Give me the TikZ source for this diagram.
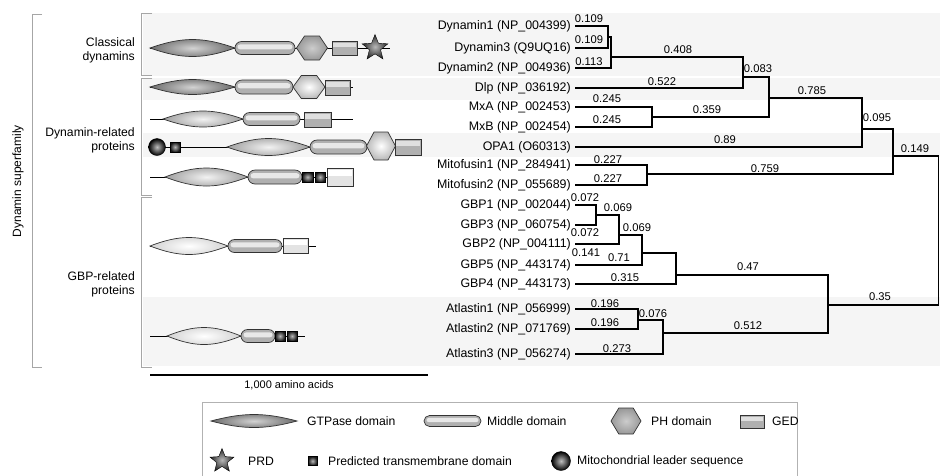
\documentclass[tikz,border=0pt]{standalone}
\usepackage{fontspec}
\setmainfont{Liberation Sans}
\usetikzlibrary{shapes.geometric}
\tikzset{
  every node/.style={inner sep=1pt},
  tree/.style={line width=1.6pt, line join=miter},
  leaf/.style={anchor=east, font=\fontsize{12.4}{14}\selectfont},
  blen/.style={font=\fontsize{11.2}{13}\selectfont},
  grp/.style={anchor=east, align=right, font=\fontsize{12.2}{14}\selectfont},
  legtxt/.style={anchor=west, font=\fontsize{12.2}{14}\selectfont},
  brk/.style={draw=gray!70, line width=1pt},
  band/.style={fill=gray!8, draw=none},
  backb/.style={line width=1pt},
  outl/.style={draw=black!80, line width=0.7pt},
  gtpdark/.style={inner color=gray!35, outer color=gray!85!black},
  gtpmid/.style={inner color=gray!10, outer color=gray!75},
  gtplight/.style={inner color=white, outer color=gray!35},
  hexdark/.style={inner color=gray!40, outer color=gray!80},
  hexlight/.style={inner color=white, outer color=gray!55},
  tmsh/.style={inner color=gray!55, outer color=black!90},
}
\newcommand\gtpase[5]{%
  \pgfmathsetmacro\gtw{(#2-#1)*0.38}\pgfmathsetmacro\gtc{#4/0.75}%
  \shadedraw[#5,outl] (#1,#3) .. controls +(\gtw,-\gtc) and +(-\gtw,-\gtc) .. (#2,#3)
     .. controls +(-\gtw,\gtc) and +(\gtw,\gtc) .. (#1,#3) -- cycle;}
\newcommand\middom[4]{%
  \pgfmathsetmacro\mdr{#4*0.4}%
  \filldraw[fill=gray!62,outl,rounded corners=#4pt] (#1,#3-#4) rectangle (#2,#3+#4);
  \fill[gray!18,rounded corners=\mdr pt] (#1+2.5,#3-0.55*#4) rectangle (#2-2.5,#3+0.2*#4);}
\newcommand\gedbox[6]{%
  \filldraw[fill=#5,outl] (#1,#3) rectangle (#2,#4);
  \fill[#6] (#1+1.2,#3+1.5) rectangle (#2-1.2,#3*0.55+#4*0.45);}
\newcommand\hexa[5]{%
  \pgfmathsetmacro\hxa{#3/2}\pgfmathsetmacro\hxb{#3*0.24}\pgfmathsetmacro\hxh{#4/2}%
  \shadedraw[#5,outl] (#1-\hxa,#2) -- (#1-\hxb,#2-\hxh) -- (#1+\hxb,#2-\hxh) -- (#1+\hxa,#2)
     -- (#1+\hxb,#2+\hxh) -- (#1-\hxb,#2+\hxh) -- cycle;}
\newcommand\tmdom[4]{%
  \shadedraw[tmsh,draw=black,line width=0.7pt] (#1,#3-#4) rectangle (#2,#3+#4);}
\begin{document}
\begin{tikzpicture}[x=1pt,y=-1pt]
\useasboundingbox (0,0) rectangle (940,475);
\fill[white] (0,0) rectangle (940,475);
% background bands
\fill[band] (143,13) rectangle (940,76);
\fill[band] (143,78) rectangle (940,100);
\fill[band] (143,133) rectangle (940,157);
\fill[band] (143,297) rectangle (940,366);
% brackets
\draw[brk] (42,14) -- (32,14) -- (32,367) -- (42,367);
\draw[brk] (152,13) -- (141,13) -- (141,75) -- (152,75);
\draw[brk] (152,78) -- (141,78) -- (141,195) -- (152,195);
\draw[brk] (152,197) -- (141,197) -- (141,367) -- (152,367);
\node[rotate=90, font=\fontsize{12}{14}\selectfont] (sup) at (18,181) {Dynamin superfamily};
\node[grp] (cls) at (136,50) {Classical\\dynamins};
\node[grp] (drp) at (136,140) {Dynamin-related\\proteins};
\node[grp] (gbp) at (136,284) {GBP-related\\proteins};
% row 1 classical dynamin
\draw[backb] (150,48) -- (390,48);
\gtpase{150}{235}{48}{8.5}{gtpdark}
\middom{235}{295}{48}{6.5}
\hexa{312}{48}{31}{24}{hexdark}
\gedbox{332}{357}{41}{55}{gray!62}{gray!25}
\node[star, star points=5, star point ratio=2.3, minimum size=27pt, inner sep=0pt,
  draw=black, shade, inner color=gray!55, outer color=black!85] (prdA) at (375,48) {};
% row 2 Dlp
\draw[backb] (150,87) -- (353,87);
\gtpase{150}{235}{87}{7.5}{gtpdark}
\middom{235}{293}{87}{7}
\hexa{309}{87}{32}{23}{hexlight}
\gedbox{325}{350}{80}{95}{gray!62}{gray!25}
% row 3 Mx
\draw[backb] (150,119) -- (353,119);
\gtpase{163}{243}{119}{8}{gtpmid}
\middom{243}{300}{119}{6.5}
\gedbox{304}{331}{112}{127}{gray!62}{gray!25}
% row 4 OPA1
\draw[backb] (165,147) -- (421,147);
\node[circle, minimum size=17pt, inner sep=0pt, draw=black, shade,
  inner color=gray!50, outer color=black] (mlsA) at (157,147) {};
\tmdom{170}{180}{147}{5}
\gtpase{227}{310}{147}{8.5}{gtpmid}
\middom{310}{367}{147}{7}
\hexa{381}{146}{29}{28}{hexlight}
\gedbox{395}{421}{139}{155}{gray!62}{gray!25}
% row 5 mitofusin
\draw[backb] (150,177) -- (353,177);
\gtpase{165}{248}{177}{9}{gtpmid}
\middom{248}{302}{177}{7}
\tmdom{302}{313}{177}{5}
\tmdom{315}{325}{177}{5}
\gedbox{327}{353}{168}{186}{gray!22}{white}
% row 6 GBP
\draw[backb] (150,246) -- (316,246);
\gtpase{150}{228}{246}{8.5}{gtplight}
\middom{228}{282}{246}{6.5}
\gedbox{283}{308}{238}{253}{gray!22}{white}
% row 7 atlastin
\draw[backb] (150,336) -- (305,336);
\gtpase{167}{241}{336}{8.5}{gtplight}
\middom{241}{275}{336}{6.5}
\tmdom{275}{285}{336}{5}
\tmdom{287}{297}{336}{5}
% scale bar
\draw[line width=1.3pt] (150,375) -- (428,375);
\node[font=\fontsize{11}{13}\selectfont] (scl) at (289,385) {1,000 amino acids};
% tree leaves
\node[leaf] (d1) at (572,26) {Dynamin1 (NP\_004399)};
\node[leaf] (d3) at (572,48) {Dynamin3 (Q9UQ16)};
\node[leaf] (d2) at (572,68) {Dynamin2 (NP\_004936)};
\node[leaf] (dlp) at (572,88) {Dlp (NP\_036192)};
\node[leaf] (mxa) at (572,107) {MxA (NP\_002453)};
\node[leaf] (mxb) at (572,127) {MxB (NP\_002454)};
\node[leaf] (opa) at (572,147) {OPA1 (O60313)};
\node[leaf] (mf1) at (572,165) {Mitofusin1 (NP\_284941)};
\node[leaf] (mf2) at (572,185) {Mitofusin2 (NP\_055689)};
\node[leaf] (gb1) at (572,205) {GBP1 (NP\_002044)};
\node[leaf] (gb3) at (572,225) {GBP3 (NP\_060754)};
\node[leaf] (gb2) at (572,244) {GBP2 (NP\_004111)};
\node[leaf] (gb5) at (572,265) {GBP5 (NP\_443174)};
\node[leaf] (gb4) at (572,284) {GBP4 (NP\_443173)};
\node[leaf] (at1) at (572,309) {Atlastin1 (NP\_056999)};
\node[leaf] (at2) at (572,329) {Atlastin2 (NP\_071769)};
\node[leaf] (at3) at (572,354) {Atlastin3 (NP\_056274)};
% internal nodes
\coordinate (n1) at (608,37);
\coordinate (n2) at (611,57);
\coordinate (n3) at (743,77);
\coordinate (n4) at (652,117);
\coordinate (n5) at (769,98);
\coordinate (n6) at (862,129);
\coordinate (n7) at (647,174);
\coordinate (n8) at (893,156);
\coordinate (g1) at (596,215);
\coordinate (g2) at (619,235);
\coordinate (g3) at (642,253);
\coordinate (g4) at (676,275);
\coordinate (a1) at (638,320);
\coordinate (a2) at (663,333);
\coordinate (g5) at (828,305);
\coordinate (rt) at (938.5,230);
% tree edges
\draw[tree] ([xshift=3pt]d1.east) -| (n1);
\draw[tree] ([xshift=3pt]d3.east) -| (n1);
\draw[tree] (n1) -| (n2);
\draw[tree] ([xshift=3pt]d2.east) -| (n2);
\draw[tree] (n2) -| (n3);
\draw[tree] ([xshift=3pt]dlp.east) -| (n3);
\draw[tree] ([xshift=3pt]mxa.east) -| (n4);
\draw[tree] ([xshift=3pt]mxb.east) -| (n4);
\draw[tree] (n3) -| (n5);
\draw[tree] (n4) -| (n5);
\draw[tree] (n5) -| (n6);
\draw[tree] ([xshift=3pt]opa.east) -| (n6);
\draw[tree] ([xshift=3pt]mf1.east) -| (n7);
\draw[tree] ([xshift=3pt]mf2.east) -| (n7);
\draw[tree] (n6) -| (n8);
\draw[tree] (n7) -| (n8);
\draw[tree] ([xshift=3pt]gb1.east) -| (g1);
\draw[tree] ([xshift=3pt]gb3.east) -| (g1);
\draw[tree] (g1) -| (g2);
\draw[tree] ([xshift=3pt]gb2.east) -| (g2);
\draw[tree] (g2) -| (g3);
\draw[tree] ([xshift=3pt]gb5.east) -| (g3);
\draw[tree] (g3) -| (g4);
\draw[tree] ([xshift=3pt]gb4.east) -| (g4);
\draw[tree] ([xshift=3pt]at1.east) -| (a1);
\draw[tree] ([xshift=3pt]at2.east) -| (a1);
\draw[tree] (a1) -| (a2);
\draw[tree] ([xshift=3pt]at3.east) -| (a2);
\draw[tree] (g4) -| (g5);
\draw[tree] (a2) -| (g5);
\draw[tree] (n8) -| (rt);
\draw[tree] (g5) -| (rt);
% branch lengths
\node[blen] (b1) at (589,19) {0.109};
\node[blen] (b2) at (589,40) {0.109};
\node[blen] (b3) at (589,62) {0.113};
\node[blen] (b4) at (678,50) {0.408};
\node[blen] (b5) at (758,69) {0.083};
\node[blen] (b6) at (662,82) {0.522};
\node[blen] (b7) at (607,99) {0.245};
\node[blen] (b8) at (707,110) {0.359};
\node[blen] (b9) at (607,120) {0.245};
\node[blen] (b10) at (812,91) {0.785};
\node[blen] (b11) at (877,118) {0.095};
\node[blen] (b12) at (725,140) {0.89};
\node[blen] (b13) at (915,149) {0.149};
\node[blen] (b14) at (608,160) {0.227};
\node[blen] (b15) at (765,169) {0.759};
\node[blen] (b16) at (608,179) {0.227};
\node[blen] (c1) at (585,198) {0.072};
\node[blen] (c2) at (618,208) {0.069};
\node[blen] (c3) at (585,233) {0.072};
\node[blen] (c4) at (637,228) {0.069};
\node[blen] (c5) at (586,253) {0.141};
\node[blen] (c6) at (619,258) {0.71};
\node[blen] (c7) at (625,278) {0.315};
\node[blen] (c8) at (748,267) {0.47};
\node[blen] (c9) at (880,297) {0.35};
\node[blen] (c10) at (605,304) {0.196};
\node[blen] (c11) at (653,314) {0.076};
\node[blen] (c12) at (605,323) {0.196};
\node[blen] (c13) at (748,326) {0.512};
\node[blen] (c14) at (617,349) {0.273};
% legend
\draw[gray!60, line width=0.8pt] (202,476) |- (797,402) -- (797,476);
\gtpase{211}{297}{421}{6.5}{gtpdark}
\node[legtxt] (lg1) at (306,421) {GTPase domain};
\middom{424}{481}{421}{5.5}
\node[legtxt] (lg2) at (486,421) {Middle domain};
\hexa{626}{421}{30}{26}{hexdark}
\node[legtxt] (lg3) at (650,421) {PH domain};
\gedbox{740}{764}{415}{428}{gray!62}{gray!25}
\node[legtxt] (lg4) at (771,421) {GED};
\node[star, star points=5, star point ratio=2.3, minimum size=25pt, inner sep=0pt,
  draw=black, shade, inner color=gray!55, outer color=black!85] (prdL) at (222,461) {};
\node[legtxt] (lg5) at (247,461) {PRD};
\tmdom{308}{317}{461}{4.5}
\node[legtxt] (lg6) at (327,461) {Predicted transmembrane domain};
\node[circle, minimum size=19pt, inner sep=0pt, draw=black, shade,
  inner color=gray!50, outer color=black] (mlsL) at (561,461) {};
\node[legtxt] (lg7) at (576,461) {Mitochondrial leader sequence};
\end{tikzpicture}
\end{document}
